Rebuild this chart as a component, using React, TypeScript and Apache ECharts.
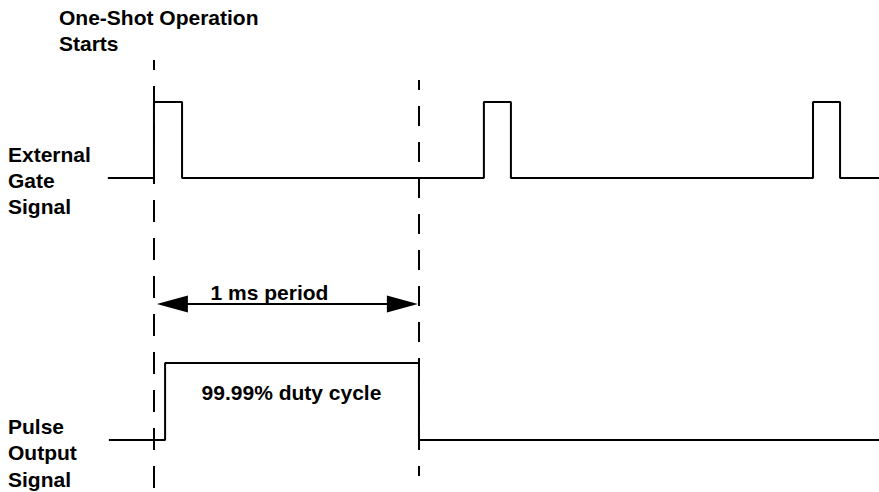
import React, { useEffect, useRef } from "react";
import * as echarts from "echarts";

// Time axis in milliseconds (0 = one-shot operation starts)
const T_MIN = -0.581;
const T_MAX = 2.736;

// External gate signal: transition times (ms) and the level after each one
const gateTimes = [-0.174, 0, 0.106, 1.245, 1.347, 2.487, 2.589, 2.736];
const gateLevels = [0, 1, 0, 1, 0, 1, 0, 0];

// Pulse output signal
const outputTimes = [-0.17, 0.042, 1.0, 2.736];
const outputLevels = [0, 1, 0, 0];

// Markers: start of one-shot operation and end of the 1 ms period
const startTime = 0;
const periodEnd = 1;

// Texts
const titleLines = ["One-Shot Operation", "Starts"];
const gateLabel = ["External", "Gate", "Signal"];
const outputLabel = ["Pulse", "Output", "Signal"];
const periodLabel = "1 ms period";
const dutyLabel = "99.99% duty cycle";

const FONT = "'Liberation Sans', Arial, Helvetica, sans-serif";

export default function App() {
  const ref = useRef<HTMLDivElement>(null);

  useEffect(() => {
    if (!ref.current) return;
    const chart = echarts.init(ref.current, undefined, { renderer: "svg" });

    const zip = (t: number[], v: number[]) => t.map((x, i) => [x, v[i]]);
    const hiddenX = (gridIndex: number) => ({
      type: "value",
      gridIndex,
      min: T_MIN,
      max: T_MAX,
      show: false,
      splitLine: { show: false },
    });
    const textStyle = (text: string, lineHeight = 26) => ({
      text,
      fill: "#000",
      font: `bold 21px ${FONT}`,
      fontFamily: FONT,
      fontWeight: "bold",
      fontSize: 21,
      lineHeight,
    });

    const pxPerMs = 879 / (T_MAX - T_MIN);
    const arrowHalf = 15.5 / pxPerMs;

    chart.setOption({
      animation: false,
      grid: [
        { left: 0, right: 0, top: 102, height: 76 },
        { left: 0, right: 0, top: 363, height: 77 },
        { left: 0, right: 0, top: 0, height: 492 },
      ],
      xAxis: [hiddenX(0), hiddenX(1), hiddenX(2)],
      yAxis: [
        { type: "value", gridIndex: 0, min: 0, max: 1, show: false, splitLine: { show: false } },
        { type: "value", gridIndex: 1, min: 0, max: 1, show: false, splitLine: { show: false } },
        { type: "value", gridIndex: 2, min: 0, max: 492, inverse: true, show: false, splitLine: { show: false } },
      ],
      series: [
        {
          name: "External Gate Signal",
          type: "line",
          xAxisIndex: 0,
          yAxisIndex: 0,
          step: "end",
          symbol: "none",
          silent: true,
          lineStyle: { color: "#000", width: 2 },
          data: zip(gateTimes, gateLevels),
        },
        {
          name: "Pulse Output Signal",
          type: "line",
          xAxisIndex: 1,
          yAxisIndex: 1,
          step: "end",
          symbol: "none",
          silent: true,
          lineStyle: { color: "#000", width: 2 },
          data: zip(outputTimes, outputLevels),
        },
        {
          name: "markers",
          type: "line",
          xAxisIndex: 2,
          yAxisIndex: 2,
          data: [],
          markLine: {
            silent: true,
            symbol: "none",
            label: { show: false },
            emphasis: { disabled: true },
            data: [
              [
                { coord: [startTime, 60], lineStyle: { color: "#000", width: 2, type: [22, 16], dashOffset: 12 } },
                { coord: [startTime, 488] },
              ],
              [
                { coord: [periodEnd, 80], lineStyle: { color: "#000", width: 2, type: [20, 16], dashOffset: 10 } },
                { coord: [periodEnd, 476] },
              ],
            ],
          },
        },
        {
          name: "period",
          type: "line",
          xAxisIndex: 2,
          yAxisIndex: 2,
          data: [],
          markLine: {
            silent: true,
            symbol: ["triangle", "triangle"],
            symbolSize: [17, 31],
            label: { show: false },
            emphasis: { disabled: true },
            lineStyle: { color: "#000", width: 2, type: "solid" },
            itemStyle: { color: "#000" },
            data: [
              [
                { coord: [startTime + 0.011 + arrowHalf, 304] },
                { coord: [periodEnd - 0.004 - arrowHalf, 304] },
              ],
            ],
          },
        },
      ],
      graphic: [
        {
          type: "text",
          left: 59,
          top: 4,
          style: { ...textStyle(titleLines.join("\n")) },
        },
        {
          type: "text",
          left: 8,
          top: 141,
          style: { ...textStyle(gateLabel.join("\n")) },
        },
        {
          type: "text",
          left: 8,
          top: 413,
          style: { ...textStyle(outputLabel.join("\n"), 26.5) },
        },
        {
          type: "text",
          x: 269.5,
          y: 292.5,
          style: { ...textStyle(periodLabel), align: "center", verticalAlign: "middle" },
        },
        {
          type: "text",
          x: 291.5,
          y: 392.5,
          style: { ...textStyle(dutyLabel), align: "center", verticalAlign: "middle" },
        },
      ],
    });

    return () => chart.dispose();
  }, []);

  return (
    <div
      ref={ref}
      style={{ position: "fixed", left: 0, top: 0, width: 879, height: 492, background: "#fff" }}
    />
  );
}
